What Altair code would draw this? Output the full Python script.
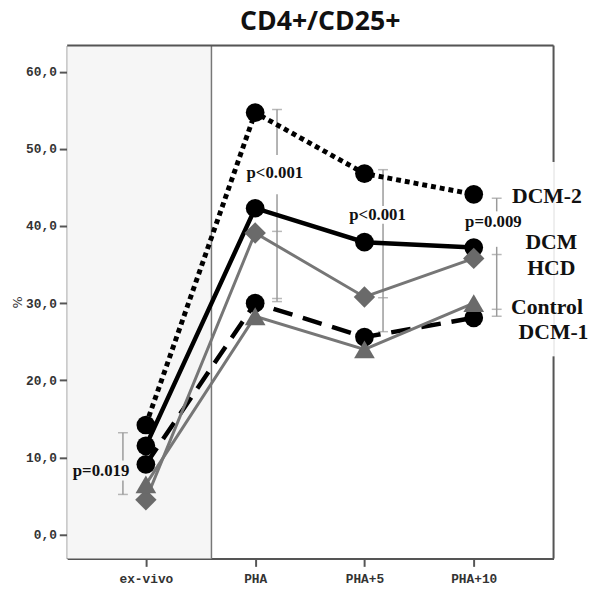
import altair as alt
import pandas as pd

categories = ["ex-vivo", "PHA", "PHA+5", "PHA+10"]
cat_pos = [0, 1, 2, 3]

dcm2 = [14.2, 54.7, 46.8, 44.1]
dcm = [11.5, 42.3, 37.9, 37.2]
hcd = [4.5, 39.1, 30.8, 35.8]
control = [6.5, 28.3, 24.0, 30.0]
dcm1 = [9.1, 30.0, 25.6, 28.1]

# error bar segments (split where p-value labels cover them)
err_x = [-0.21, -0.21, 1.20, 1.20, 2.17, 2.17, 3.21, 3.21]
err_lo = [9.6, 5.2, 49.2, 30.2, 42.6, 26.3, 41.9, 28.3]
err_hi = [13.2, 7.0, 55.1, 44.1, 47.3, 40.3, 43.6, 37.3]
cap_x = [-0.21, -0.21, 1.20, 1.20, 1.20, 1.20, 2.17, 2.17, 2.17, 3.21, 3.21, 3.21, 3.21]
cap_y = [13.2, 5.2, 55.1, 39.3, 30.6, 30.2, 47.3, 30.7, 26.3, 43.6, 36.3, 29.2, 28.3]

p_text = ["p=0.019", "p<0.001", "p<0.001", "p=0.009"]
p_x = [-0.41, 1.18, 2.12, 3.18]
p_y = [8.2, 46.8, 41.4, 40.5]

lab_text = ["DCM-2", "DCM", "HCD", "Control", "DCM-1"]
lab_x = [3.67, 3.71, 3.71, 3.67, 3.73]
lab_y = [43.9, 37.9, 34.5, 29.5, 26.2]

title_text = "CD4+/CD25+"

XDOM = [-0.72, 3.73]
YDOM = [-3.1, 63.4]
SHADE_END = 0.6
RIGHT_GAP = [23.1, 48.3]

W, H = 493, 520

xscale = alt.Scale(domain=XDOM, nice=False, zero=False)
yscale = alt.Scale(domain=YDOM, nice=False, zero=False)

label_expr = "[" + ",".join("'%s'" % c for c in categories) + "][datum.value]"
xaxis = alt.Axis(values=cat_pos, labelExpr=label_expr, title=None, grid=False,
                 domainColor="#555", domainWidth=2, tickColor="#555", tickWidth=2,
                 tickSize=8, labelPadding=6, labelFont="Liberation Mono",
                 labelFontWeight="bold", labelFontSize=13, labelColor="#333")
yaxis = alt.Axis(values=[0, 10, 20, 30, 40, 50, 60],
                 labelExpr="replace(format(datum.value, '.1f'), '.', ',')",
                 title="%", titleAngle=270, titleX=-50, titleY=260,
                 titleAlign="center", titleBaseline="middle",
                 titleFont="DejaVu Sans", titleFontWeight="normal", titleFontSize=13,
                 titleColor="#333", grid=False,
                 domainColor="#555", domainWidth=2, tickColor="#555", tickWidth=2,
                 tickSize=8, labelPadding=3, labelFont="Liberation Mono",
                 labelFontWeight="bold", labelFontSize=13, labelColor="#333")


def X(field):
    return alt.X(field, scale=xscale, axis=xaxis)


def Y(field):
    return alt.Y(field, scale=yscale, axis=yaxis)


one = pd.DataFrame({"k": [0]})

shade = alt.Chart(one).mark_rect(fill="#f6f6f6").encode(
    x=alt.datum(XDOM[0], scale=xscale, axis=xaxis), x2=alt.datum(SHADE_END),
    y=alt.datum(YDOM[0], scale=yscale, axis=yaxis), y2=alt.datum(YDOM[1]))
sep = alt.Chart(one).mark_rule(color="#777", strokeWidth=1.5).encode(
    x=alt.datum(SHADE_END, scale=xscale, axis=xaxis),
    y=alt.datum(YDOM[0], scale=yscale, axis=yaxis), y2=alt.datum(YDOM[1]))
top = alt.Chart(one).mark_rule(color="#555", strokeWidth=2).encode(
    x=alt.datum(XDOM[0], scale=xscale, axis=xaxis), x2=alt.datum(XDOM[1]),
    y=alt.datum(YDOM[1], scale=yscale, axis=yaxis))
right1 = alt.Chart(one).mark_rule(color="#555", strokeWidth=2).encode(
    x=alt.datum(XDOM[1], scale=xscale, axis=xaxis),
    y=alt.datum(YDOM[0], scale=yscale, axis=yaxis), y2=alt.datum(RIGHT_GAP[0]))
right2 = alt.Chart(one).mark_rule(color="#555", strokeWidth=2).encode(
    x=alt.datum(XDOM[1], scale=xscale, axis=xaxis),
    y=alt.datum(RIGHT_GAP[1], scale=yscale, axis=yaxis), y2=alt.datum(YDOM[1]))

err_df = pd.DataFrame({"x": err_x, "lo": err_lo, "hi": err_hi})
errs = alt.Chart(err_df).mark_rule(color="#9a9a9a", strokeWidth=1.5).encode(
    x=X("x:Q"), y=Y("lo:Q"), y2="hi:Q")
cap_df = pd.DataFrame({"x": cap_x, "y": cap_y})
caps = alt.Chart(cap_df).mark_tick(orient="horizontal", color="#9a9a9a",
                                   size=10, thickness=1.5).encode(x=X("x:Q"), y=Y("y:Q"))

series = [
    ("DCM-2", dcm2, "#000", [5, 4], 5, "circle", 360),
    ("DCM", dcm, "#000", [1, 0], 4.5, "circle", 360),
    ("DCM-1", dcm1, "#000", [20, 11], 4.5, "circle", 360),
    ("HCD", hcd, "#767676", [1, 0], 3, "diamond", 470),
    ("Control", control, "#767676", [1, 0], 3, "triangle-up", 440),
]

lines = []
points = []
for name, vals, col, dash, sw, shp, sz in series:
    df = pd.DataFrame({"x": cat_pos, "v": vals, "s": name})
    lkw = dict(color=col, strokeWidth=sw, strokeCap="butt")
    if dash != [1, 0]:
        lkw["strokeDash"] = dash
    lines.append(alt.Chart(df).mark_line(**lkw).encode(x=X("x:Q"), y=Y("v:Q")))
    pcol = "#000" if col == "#000" else "#6a6a6a"
    points.append(alt.Chart(df).mark_point(shape=shp, size=sz, filled=True,
                                           color=pcol, opacity=1).encode(x=X("x:Q"), y=Y("v:Q")))

p_df = pd.DataFrame({"x": p_x, "y": p_y, "t": p_text})
ptext = alt.Chart(p_df).mark_text(font="Liberation Serif", fontWeight="bold",
                                  fontSize=17, color="#111", align="center",
                                  baseline="middle").encode(x=X("x:Q"), y=Y("y:Q"), text="t:N")
lab_df = pd.DataFrame({"x": lab_x, "y": lab_y, "t": lab_text})
labs = alt.Chart(lab_df).mark_text(font="Liberation Serif", fontWeight="bold",
                                   fontSize=22, color="#111", align="center",
                                   baseline="middle").encode(x=X("x:Q"), y=Y("y:Q"), text="t:N")

title = alt.Chart(pd.DataFrame({"t": [title_text]})).mark_text(
    font="Open Sans", fontWeight="bold", fontSize=27, color="#111",
    align="center", baseline="alphabetic").encode(
    x=alt.value(W / 2 + 10), y=alt.value(-16), text="t:N")

chart = alt.layer(shade, sep, errs, caps, *lines, *points, ptext, labs, top, right1, right2, title).properties(
    width=W, height=H,
    autosize=alt.AutoSizeParams(type="none"),
    padding={"left": 60, "top": 34, "right": 39, "bottom": 30},
).configure_view(stroke=None).configure(background="white")

chart.save("out.html", embed_options={"renderer": "svg", "actions": False})
